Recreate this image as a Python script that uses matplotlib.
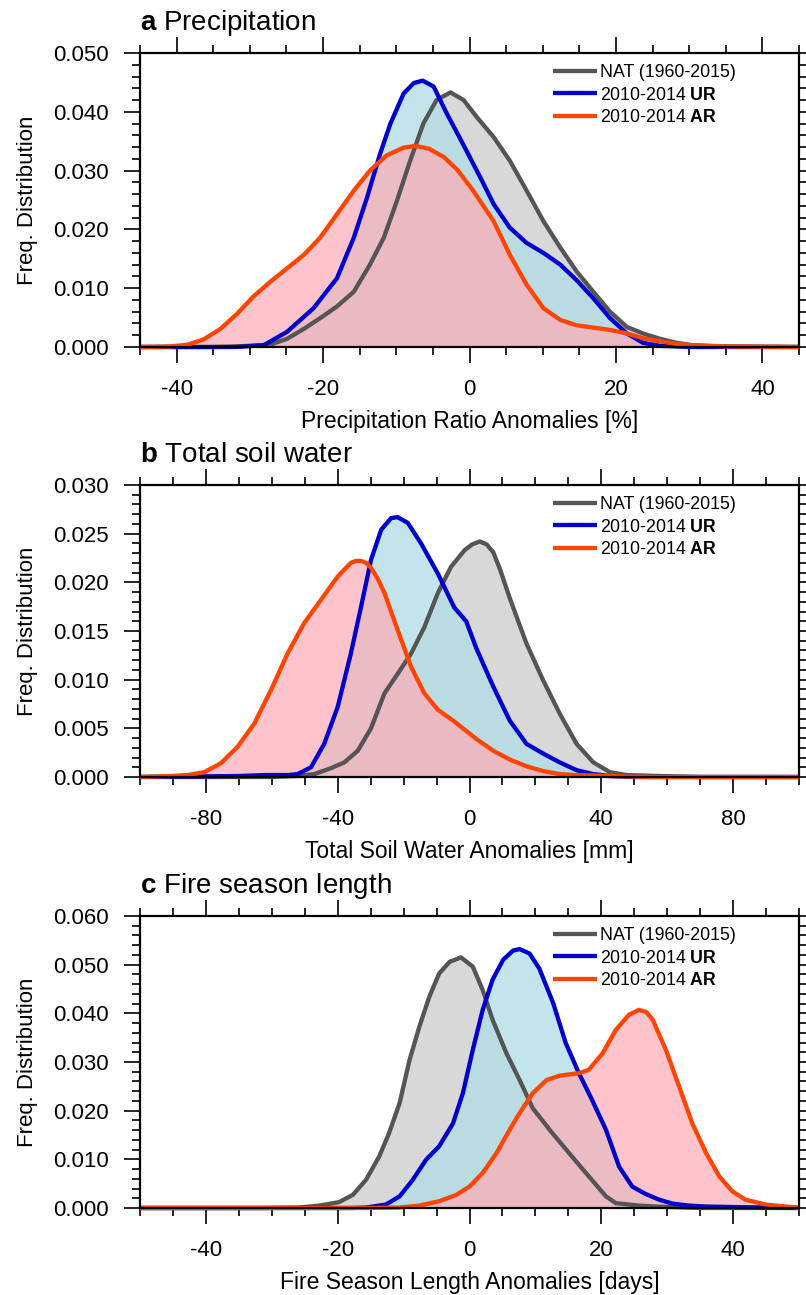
import matplotlib
matplotlib.use('Agg')
import matplotlib.pyplot as plt
from matplotlib.ticker import MultipleLocator, FormatStrFormatter

plt.rcParams['font.family'] = ['Liberation Sans', 'DejaVu Sans']
plt.rcParams['mathtext.fontset'] = 'custom'
plt.rcParams['mathtext.rm'] = 'Liberation Sans'
plt.rcParams['mathtext.bf'] = 'Liberation Sans:bold'
plt.rcParams['axes.unicode_minus'] = False

# ---- panel a: precipitation ratio anomalies [%]
a_nat_x = [-45, -35, -31.7, -27.2, -24.9, -22.6, -20.4, -18.1, -15.8, -13.6, -11.7, -9.9, -8.1, -6.3,
           -4.5, -2.6, -0.8, 1.0, 3.3, 5.5, 7.8, 10.1, 12.4, 14.6, 16.9, 19.2, 21.5, 23.7, 26.0, 28.3,
           30.5, 34, 45]
a_nat_y = [0, 0, 0.0001, 0.0004, 0.0014, 0.0031, 0.0049, 0.0069, 0.0094, 0.014, 0.0186, 0.0249, 0.0317,
           0.038, 0.042, 0.0433, 0.042, 0.0391, 0.0357, 0.0317, 0.0266, 0.0214, 0.0169, 0.0129, 0.0094,
           0.006, 0.0034, 0.0023, 0.0014, 0.0007, 0.0003, 0.0001, 0]
a_ur_x = [-45, -32, -28.1, -24.9, -21.3, -18.1, -15.8, -14.0, -12.2, -10.8, -9.0, -7.6, -6.4, -4.9,
          -3.1, -1.3, 1.45, 3.3, 5.5, 7.8, 10.1, 12.4, 14.6, 16.9, 19.2, 21.5, 23.7, 26.0, 30.5, 45]
a_ur_y = [0, 0, 0.0003, 0.0026, 0.0066, 0.0117, 0.0186, 0.0254, 0.0329, 0.038, 0.0431, 0.0449, 0.0453,
          0.0443, 0.0397, 0.0355, 0.0289, 0.0243, 0.0203, 0.0177, 0.016, 0.014, 0.0114, 0.0083, 0.0049,
          0.0023, 0.0007, 0.0002, 0, 0]
a_ar_x = [-45, -40.8, -38.5, -36.3, -34, -31.7, -29.5, -27.2, -24.9, -22.6, -20.4, -18.1, -15.8, -13.6,
          -11.3, -9.0, -7.4, -5.5, -3.5, -1.7, 0.5, 3.3, 5.5, 7.8, 10.1, 12.4, 14.6, 16.9, 19.2, 21.5,
          23.7, 26.0, 28.3, 30.5, 35, 45]
a_ar_y = [0, 0.0001, 0.0004, 0.0013, 0.0031, 0.0057, 0.0086, 0.0111, 0.0134, 0.0157, 0.0186, 0.0226,
          0.0266, 0.030, 0.0326, 0.0339, 0.0342, 0.0337, 0.0323, 0.0302, 0.0266, 0.0214, 0.0157, 0.0106,
          0.0066, 0.0046, 0.0037, 0.0033, 0.0029, 0.0023, 0.0015, 0.001, 0.0005, 0.0003, 0.0001, 0]

# ---- panel b: total soil water anomalies [mm]
b_nat_x = [-100, -60, -52.2, -47.1, -42.1, -38, -33.9, -29.9, -25.8, -21.8, -17.7, -13.7, -9.6, -5.6,
           -1.5, 0.8, 3.1, 5.2, 7.2, 9.2, 12.2, 14.8, 17.3, 22.4, 27.4, 32.5, 37.6, 42.6, 47.7, 57.8,
           70, 100]
b_nat_y = [0, 0, 0.0001, 0.0003, 0.0009, 0.0015, 0.0027, 0.005, 0.0086, 0.0106, 0.0127, 0.0154, 0.0189,
           0.0216, 0.0233, 0.0239, 0.0242, 0.0239, 0.0231, 0.0214, 0.0184, 0.016, 0.0137, 0.0099,
           0.0065, 0.0034, 0.0015, 0.0005, 0.0002, 0.0001, 0, 0]
b_ur_x = [-100, -70, -62, -55, -52.2, -48.1, -44.1, -40.0, -36, -32.9, -29.9, -26.8, -23.8, -21.8,
          -18.7, -14.7, -9.6, -4.6, -1.0, 2.1, 7.2, 12.2, 17.3, 22.4, 27.4, 32.5, 37.6, 42.6, 50, 100]
b_ur_y = [0, 0.0001, 0.0002, 0.0002, 0.0003, 0.001, 0.0034, 0.0072, 0.0127, 0.0175, 0.0223, 0.0254,
          0.0266, 0.0267, 0.0261, 0.024, 0.0209, 0.0174, 0.016, 0.0132, 0.0093, 0.0058, 0.0034, 0.0024,
          0.0015, 0.0007, 0.0003, 0.0001, 0, 0]
b_ar_x = [-100, -90.7, -85.6, -80.5, -75.5, -70.4, -65.3, -60.3, -55.2, -50.2, -45.1, -40.0, -36,
          -34.5, -32.9, -31.4, -29.9, -27.9, -25.8, -21.8, -17.7, -13.7, -9.6, -4.6, -0.5, 2.1, 7.2,
          12.2, 17.3, 22.4, 27.4, 32.5, 42.6, 55, 100]
b_ar_y = [0, 0.0001, 0.0002, 0.0005, 0.0014, 0.0031, 0.0055, 0.0089, 0.0127, 0.0158, 0.0182, 0.0206,
          0.022, 0.0222, 0.0222, 0.022, 0.0215, 0.0204, 0.0189, 0.0151, 0.0113, 0.0086, 0.0069, 0.0057,
          0.0046, 0.0039, 0.0027, 0.0018, 0.0011, 0.0006, 0.0003, 0.0002, 0.0001, 0, 0]

# ---- panel c: fire season length anomalies [days]
c_nat_x = [-50, -32, -25.8, -22.8, -19.8, -17.7, -15.7, -13.7, -12.2, -10.6, -9.1, -7.6, -6.1, -4.6,
           -3.0, -1.3, 0.5, 2.0, 3.5, 5.6, 7.6, 9.6, 12.5, 15.6, 18.1, 20.7, 22.2, 25.7, 28.3, 35, 50]
c_nat_y = [0, 0, 0.0001, 0.0005, 0.0012, 0.0027, 0.0058, 0.0106, 0.0154, 0.0216, 0.0304, 0.0373, 0.0434,
           0.0482, 0.0506, 0.0515, 0.0496, 0.0448, 0.0387, 0.0318, 0.0263, 0.0205, 0.0155, 0.0105,
           0.0065, 0.0024, 0.001, 0.0005, 0.0003, 0, 0]
c_ur_x = [-50, -18, -15.7, -12.7, -10.6, -8.6, -6.6, -4.6, -2.5, -1.0, 0.5, 2.0, 3.5, 5.1, 6.6, 7.6, 9.1,
          10.6, 12.7, 14.6, 16.6, 18.6, 20.7, 22.7, 24.7, 26.7, 28.8, 30.8, 33.3, 35.9, 39.9, 45, 50]
c_ur_y = [0, 0, 0.0001, 0.0007, 0.0024, 0.0058, 0.0099, 0.0127, 0.0174, 0.0236, 0.0325, 0.0407, 0.0469,
          0.051, 0.0529, 0.0532, 0.0523, 0.0492, 0.0421, 0.0339, 0.0277, 0.0222, 0.0161, 0.0085, 0.0044,
          0.0029, 0.0017, 0.0009, 0.0005, 0.0003, 0.0002, 0.0001, 0]
c_ar_x = [-50, -15.7, -10.6, -7.6, -4.6, -2.0, 0, 2.0, 4.1, 6.1, 7.6, 9.6, 11.7, 13.7, 16.6, 18.1, 20.2,
          22.2, 24.2, 25.7, 26.8, 27.8, 29.8, 31.8, 33.8, 35.9, 37.9, 39.9, 41.9, 45.0, 48, 50]
c_ar_y = [0, 0, 0.0001, 0.0005, 0.0014, 0.0027, 0.0044, 0.0072, 0.0113, 0.0161, 0.0195, 0.0236, 0.0263,
          0.0272, 0.0277, 0.0284, 0.0318, 0.0366, 0.0397, 0.0407, 0.0403, 0.0387, 0.0325, 0.025, 0.0174,
          0.0113, 0.0065, 0.0034, 0.0017, 0.0007, 0.0003, 0.0001]

labels = ['NAT (1960-2015)', r'2010-2014 $\mathbf{UR}$', r'2010-2014 $\mathbf{AR}$']
line_colors = ['#555555', '#0000CC', '#FF4500']
fill_colors = [((216/255, 216/255, 216/255), 1.0),
               ((176/255, 222/255, 230/255), 0.77),
               ((255/255, 171/255, 181/255), 0.7)]

fig = plt.figure(figsize=(8.06, 12.95), dpi=100)
W, H = 806.0, 1295.0
ax_left = 140 / W
ax_w = 659 / W


def panel(top, bottom):
    return fig.add_axes([ax_left, 1 - bottom / H, ax_w, (bottom - top) / H])


def draw(ax, curves, xlim, ylim, xmaj, xmin, ymaj, ymin, xlabel, letter, title):
    hpx = ax.get_position().height * H
    for (x, y), (fc, al) in zip(curves, fill_colors):
        ax.fill_between(x, 0, y, color=fc, alpha=al, lw=0, zorder=1)
    for (x, y), c, lab in zip(curves, line_colors, labels):
        ax.plot(x, y, color=c, lw=3.1, zorder=2, clip_on=False, label=lab,
                solid_joinstyle='round', solid_capstyle='butt')
    ax.set_xlim(xlim)
    ax.set_ylim(ylim)
    ax.xaxis.set_major_locator(MultipleLocator(xmaj))
    ax.xaxis.set_minor_locator(MultipleLocator(xmin))
    ax.yaxis.set_major_locator(MultipleLocator(ymaj))
    ax.yaxis.set_minor_locator(MultipleLocator(ymin))
    ax.yaxis.set_major_formatter(FormatStrFormatter('%.3f'))
    ax.tick_params(which='both', direction='out', top=True, right=True, width=1.2, labelsize=16)
    ax.tick_params(which='major', length=11.5)
    ax.tick_params(which='minor', length=6)
    ax.tick_params(axis='x', pad=11.5)
    ax.tick_params(axis='y', pad=11)
    for s in ax.spines.values():
        s.set_linewidth(1.6)
    ax.set_xlabel(xlabel, fontsize=16.5)
    ax.xaxis.set_label_coords(0.5, -63 / hpx)
    ax.set_ylabel('Freq. Distribution', fontsize=16)
    ax.yaxis.set_label_coords(-102 / 659, 0.5)
    ax.text(0, 1 + 23 / hpx, r'$\mathbf{%s}$ %s' % (letter, title), transform=ax.transAxes,
            fontsize=20, ha='left', va='baseline')
    ax.legend(loc='upper left', bbox_to_anchor=(0.627, 1 - 11 / hpx), frameon=False, fontsize=12.8,
              handlelength=2.47, handletextpad=0.17, labelspacing=0.32, borderpad=0, borderaxespad=0)


ax_a = panel(53, 347)
draw(ax_a, [(a_nat_x, a_nat_y), (a_ur_x, a_ur_y), (a_ar_x, a_ar_y)], (-45, 45), (0, 0.05),
     20, 5, 0.01, 0.002, 'Precipitation Ratio Anomalies [%]', 'a', 'Precipitation')

ax_b = panel(485, 777)
draw(ax_b, [(b_nat_x, b_nat_y), (b_ur_x, b_ur_y), (b_ar_x, b_ar_y)], (-100, 100), (0, 0.03),
     40, 10, 0.005, 0.001, 'Total Soil Water Anomalies [mm]', 'b', 'Total soil water')

ax_c = panel(916, 1208)
draw(ax_c, [(c_nat_x, c_nat_y), (c_ur_x, c_ur_y), (c_ar_x, c_ar_y)], (-50, 50), (0, 0.06),
     20, 5, 0.01, 0.002, 'Fire Season Length Anomalies [days]', 'c', 'Fire season length')

fig.savefig('out.png', dpi=100)
